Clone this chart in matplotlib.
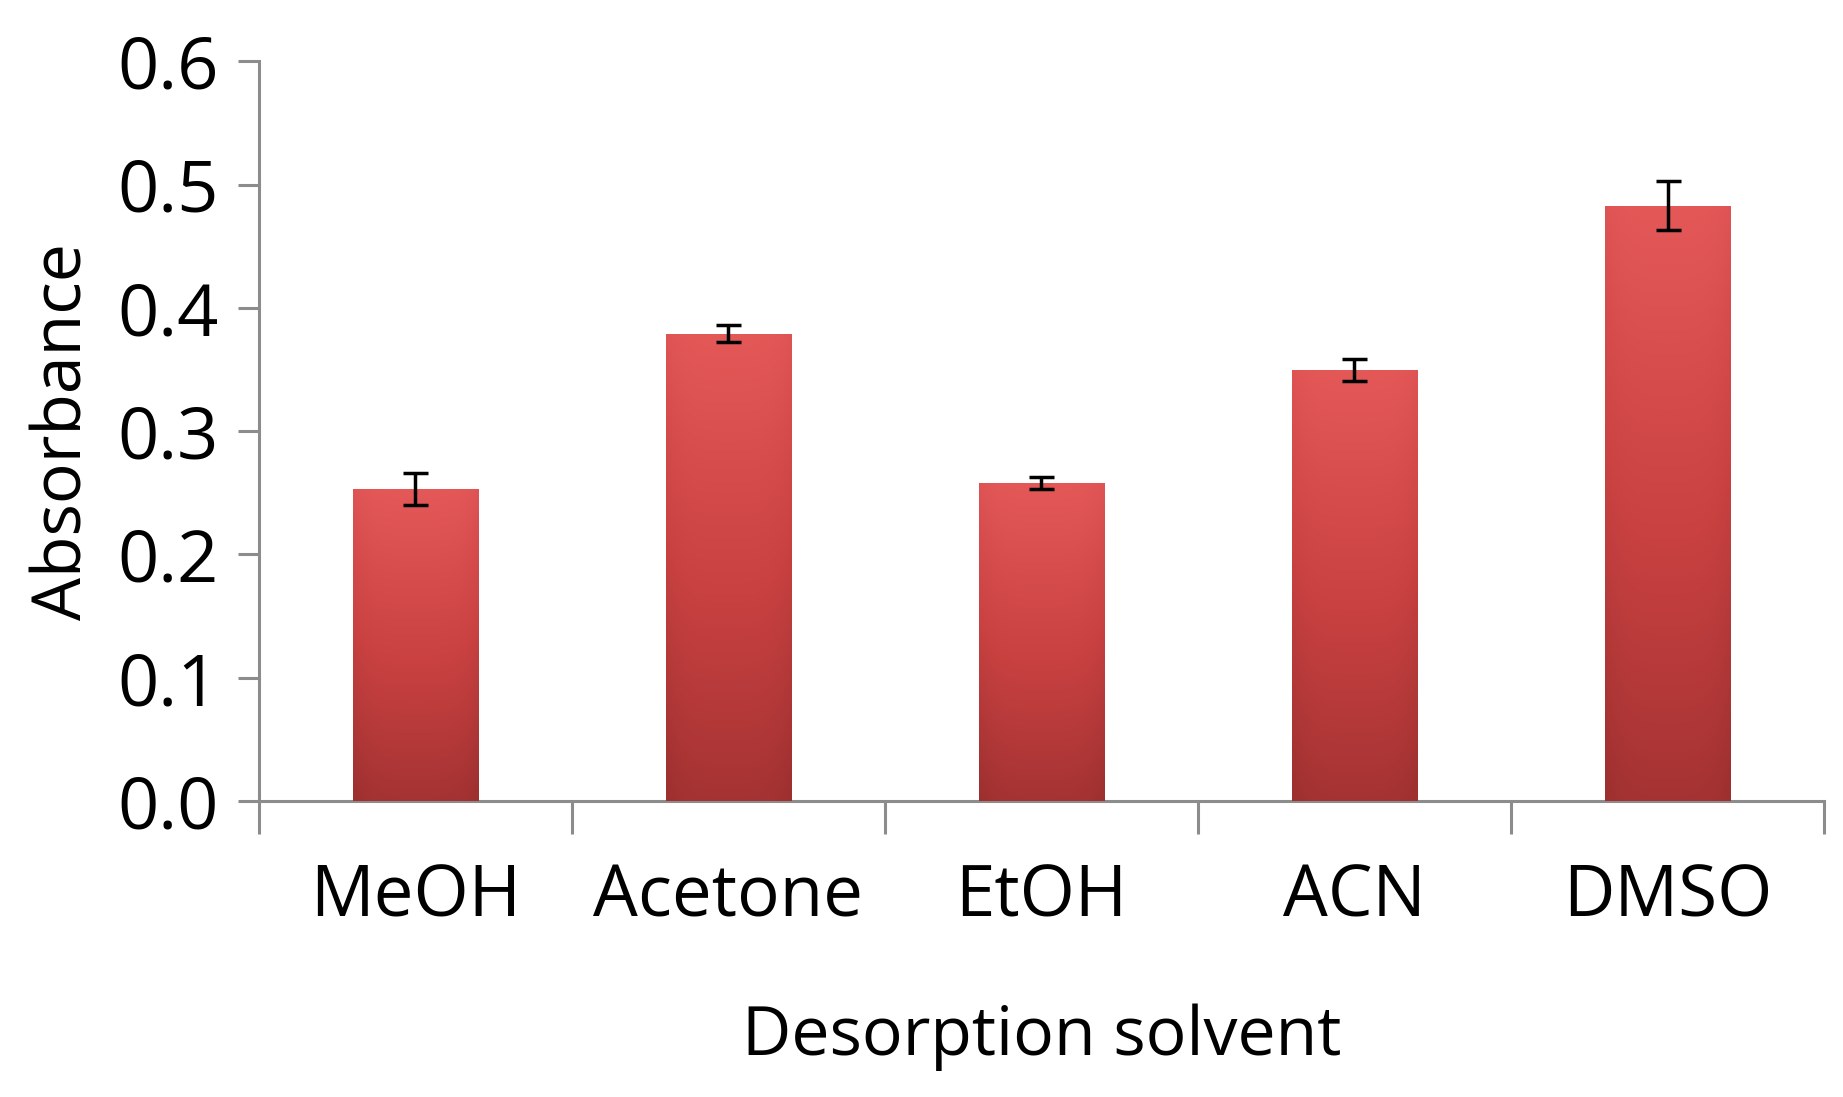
import numpy as np
import matplotlib
matplotlib.use("Agg")
from matplotlib import pyplot as plt
from matplotlib.colors import LinearSegmentedColormap

solvents = ["MeOH", "Acetone", "EtOH", "ACN", "DMSO"]
absorbance = [0.253, 0.379, 0.258, 0.350, 0.483]
errors = [0.013, 0.007, 0.005, 0.009, 0.020]
y_ticks = [0.0, 0.1, 0.2, 0.3, 0.4, 0.5, 0.6]

plt.rcParams['font.family'] = ['Open Sans', 'DejaVu Sans']

fig = plt.figure(figsize=(18.43, 10.97), dpi=100)
ax = fig.add_axes([0.1405, 0.2698, 0.8492, 0.6742])

x = np.arange(len(solvents))
bars = ax.bar(x, absorbance, width=0.40, color='#c94040', edgecolor='none', zorder=2)

# shaded fill for each bar (darker toward bottom and sides), clipped to the bar
grad = LinearSegmentedColormap.from_list('redgrad', ['#9c2f2f', '#c94141', '#e45858'])
for b in bars:
    x0, y0 = b.get_x(), b.get_y()
    w, h = b.get_width(), b.get_height()
    vert = np.linspace(0, 1, 256).reshape(-1, 1)
    horiz = np.abs(np.linspace(-1, 1, 64)).reshape(1, -1)
    img = vert - 0.12 * horiz ** 4
    im = ax.imshow(img, cmap=grad, aspect='auto', origin='lower', vmin=-0.12, vmax=1,
                   extent=[x0, x0 + w, y0, y0 + h], zorder=3)
    im.set_clip_path(b)

ax.errorbar(x, absorbance, yerr=errors, fmt='none', ecolor='black',
            elinewidth=2.5, capsize=9, capthick=2.5, zorder=4)

ax.set_xlim(-0.5, len(solvents) - 0.5)
ax.set_ylim(0, 0.6)
ax.set_yticks(y_ticks)
ax.set_yticklabels([f"{v:.1f}" for v in y_ticks])

ax.set_xticks(x)
ax.set_xticklabels(solvents)
ax.set_xticks(np.arange(len(solvents) + 1) - 0.5, minor=True)
ax.tick_params(axis='x', which='major', length=0, pad=44, labelsize=51)
ax.tick_params(axis='x', which='minor', length=24, width=2.2, color='#8c8c8c')
ax.tick_params(axis='y', which='major', length=15, width=2.2, color='#8c8c8c',
               labelsize=52, pad=14)

for side in ['top', 'right']:
    ax.spines[side].set_visible(False)
for side in ['left', 'bottom']:
    ax.spines[side].set_color('#8c8c8c')
    ax.spines[side].set_linewidth(2.2)

ax.set_xlabel("Desorption solvent", fontsize=49, labelpad=50)
ax.set_ylabel("Absorbance", fontsize=49, labelpad=14)

fig.savefig("out.png", dpi=100, facecolor='white')
